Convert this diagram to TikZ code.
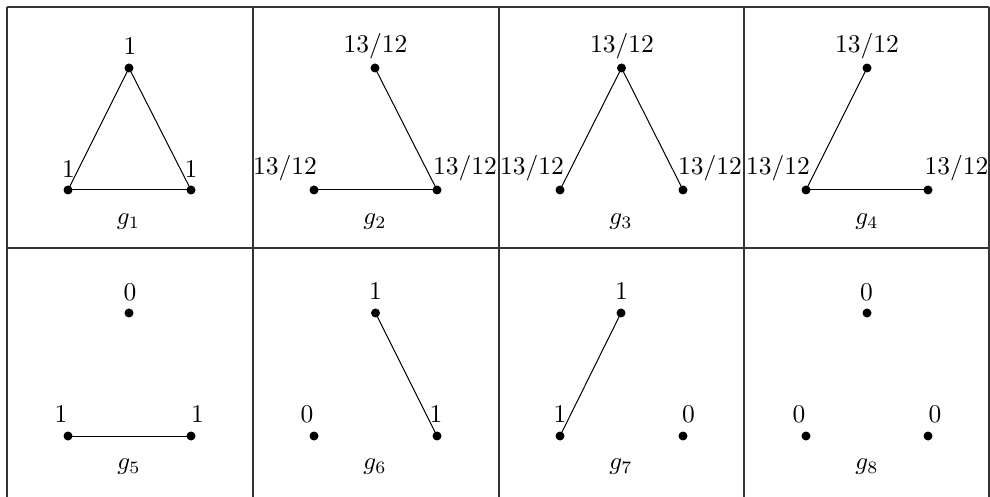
\documentclass[tikz,border=0pt]{standalone}
\begin{document}
\begin{tikzpicture}[x=0.4pt,y=-0.4pt,
  dot/.style={circle,fill=black,inner sep=0pt,minimum size=3.6pt},
  val/.style={anchor=base,inner sep=0pt,font=\fontsize{10.2}{12}\selectfont},
  gname/.style={anchor=center,inner sep=0pt,font=\fontsize{10.2}{12}\selectfont},
  grid/.style={draw=black!80,line width=0.45pt},
  edge/.style={draw=black,line width=0.4pt}]
\useasboundingbox (0,0) rectangle (990,497);
% table
\coordinate (tl) at (7,7);   \coordinate (tr) at (989,7);
\coordinate (ml) at (7,248); \coordinate (mr) at (989,248);
\coordinate (v0t) at (7,7);     \coordinate (v0b) at (7,497);
\coordinate (v1t) at (253,7);   \coordinate (v1b) at (253,497);
\coordinate (v2t) at (499,7);   \coordinate (v2b) at (499,497);
\coordinate (v3t) at (744,7);   \coordinate (v3b) at (744,497);
\coordinate (v4t) at (989,7);   \coordinate (v4b) at (989,497);
\draw[grid] (tl) -- (tr);
\draw[grid] (ml) -- (mr);
\draw[grid] (v0t) -- (v0b);
\draw[grid] (v1t) -- (v1b);
\draw[grid] (v2t) -- (v2b);
\draw[grid] (v3t) -- (v3b);
\draw[grid] (v4t) -- (v4b);

% ---------- g1 ----------
\node[dot] (a1) at (129,68) {};
\node[dot] (b1) at (68,190) {};
\node[dot] (c1) at (191,190) {};
\node[val] (la1) at (130,55) {1};
\node[val] (lb1) at (68.5,178) {1};
\node[val] (lc1) at (191,178) {1};
\node[gname] (g1) at (128.5,222) {$g_1$};
\draw[edge] (a1.center) -- (b1.center);
\draw[edge] (a1.center) -- (c1.center);
\draw[edge] (b1.center) -- (c1.center);

% ---------- g2 ----------
\node[dot] (a2) at (375,68) {};
\node[dot] (b2) at (314,190) {};
\node[dot] (c2) at (437,190) {};
\node[val] (la2) at (375.5,53) {13/12};
\node[val] (lb2) at (285,175) {13/12};
\node[val] (lc2) at (465,175) {13/12};
\node[gname] (g2) at (375,222) {$g_2$};
\draw[edge] (a2.center) -- (c2.center);
\draw[edge] (b2.center) -- (c2.center);

% ---------- g3 ----------
\node[dot] (a3) at (621.5,68) {};
\node[dot] (b3) at (560,190) {};
\node[dot] (c3) at (683,190) {};
\node[val] (la3) at (622,53) {13/12};
\node[val] (lb3) at (532,175) {13/12};
\node[val] (lc3) at (710,175) {13/12};
\node[gname] (g3) at (621,222) {$g_3$};
\draw[edge] (a3.center) -- (b3.center);
\draw[edge] (a3.center) -- (c3.center);

% ---------- g4 ----------
\node[dot] (a4) at (867,68) {};
\node[dot] (b4) at (806,190) {};
\node[dot] (c4) at (928,190) {};
\node[val] (la4) at (867,53) {13/12};
\node[val] (lb4) at (778,175) {13/12};
\node[val] (lc4) at (956.5,175) {13/12};
\node[gname] (g4) at (867,222) {$g_4$};
\draw[edge] (a4.center) -- (b4.center);
\draw[edge] (b4.center) -- (c4.center);

% ---------- g5 ----------
\node[dot] (a5) at (129,313) {};
\node[dot] (b5) at (68,436) {};
\node[dot] (c5) at (191,436) {};
\node[val] (la5) at (130,301) {0};
\node[val] (lb5) at (61,423) {1};
\node[val] (lc5) at (197.5,423) {1};
\node[gname] (g5) at (129,467) {$g_5$};
\draw[edge] (b5.center) -- (c5.center);

% ---------- g6 ----------
\node[dot] (a6) at (375.5,313) {};
\node[dot] (b6) at (314,436) {};
\node[dot] (c6) at (437,436) {};
\node[val] (la6) at (375.5,300) {1};
\node[val] (lb6) at (307,423) {0};
\node[val] (lc6) at (436,423) {1};
\node[gname] (g6) at (375,467) {$g_6$};
\draw[edge] (a6.center) -- (c6.center);

% ---------- g7 ----------
\node[dot] (a7) at (621,313) {};
\node[dot] (b7) at (560,436) {};
\node[dot] (c7) at (683,436) {};
\node[val] (la7) at (621.5,300) {1};
\node[val] (lb7) at (560,423) {1};
\node[val] (lc7) at (688.5,423) {0};
\node[gname] (g7) at (621,467) {$g_7$};
\draw[edge] (a7.center) -- (b7.center);

% ---------- g8 ----------
\node[dot] (a8) at (867,313) {};
\node[dot] (b8) at (806,436) {};
\node[dot] (c8) at (928,436) {};
\node[val] (la8) at (866.5,301) {0};
\node[val] (lb8) at (799,423) {0};
\node[val] (lc8) at (935,423) {0};
\node[gname] (g8) at (867,467) {$g_8$};
\end{tikzpicture}
\end{document}
